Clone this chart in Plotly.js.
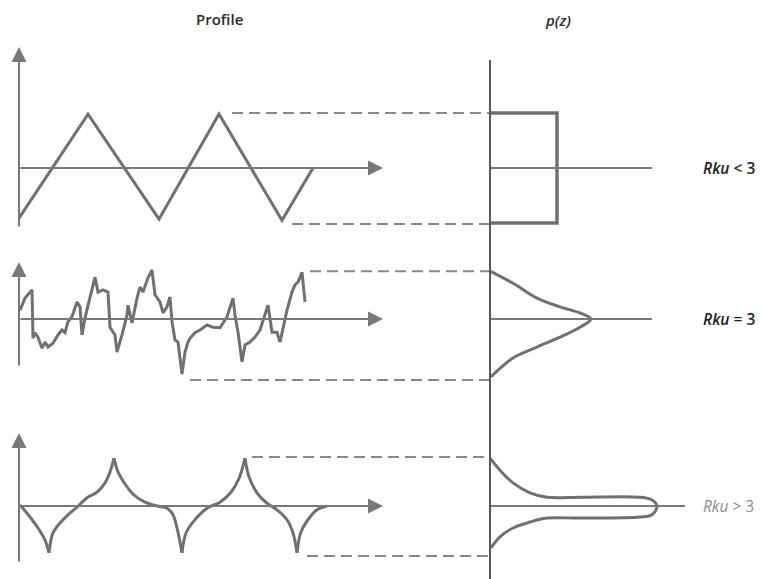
<!DOCTYPE html>
<html><head><meta charset="utf-8">
<script src="https://cdn.plot.ly/plotly-3.0.1.min.js"></script>
<style>html,body{margin:0;padding:0;background:#fff}</style>
</head><body>
<div id="chart" style="width:764px;height:579px"></div>
<script>
// ---------- DATA ----------
const rowLabels = ['<i>Rku</i> &lt; 3', '<i>Rku</i> = 3', '<i>Rku</i> &gt; 3'];
const panelTitles = ['Profile', 'p(z)'];

// Row 1: triangular profile (x along profile, z height)
const triX = [0, 69, 140, 200, 263, 294];
const triZ = [-0.91, 0.98, -0.93, 0.98, -0.95, 0];

// Row 2: random (Gaussian) profile
const randX = [1, 6, 13, 14, 16, 19, 23, 26, 29, 34, 39, 43, 46, 49, 53, 58, 61, 63, 66, 71, 76, 79, 84, 89, 91, 96, 98,
  103, 108, 109, 113, 118, 121, 124, 129, 133, 136, 141, 144, 148, 151, 153, 156, 159, 163, 166, 169, 171, 176, 181,
  188, 194, 201, 208, 211, 214, 216, 219, 223, 226, 231, 236, 241, 246, 249, 253, 258, 261, 264, 268, 273, 276, 279,
  283, 284, 286];
const randZ = [0.16, 0.38, 0.53, -0.35, -0.25, -0.33, -0.53, -0.42, -0.51, -0.44, -0.29, -0.2, -0.25, -0.05, 0.04, 0.31,
  0.22, -0.29, 0.02, 0.38, 0.76, 0.49, 0.53, 0.49, -0.15, -0.29, -0.6, -0.29, 0.07, 0.25, -0.07, 0.38, 0.58, 0.49, 0.75,
  0.89, 0.44, 0.31, 0.11, 0.22, 0.4, -0.05, -0.38, -0.42, -1.0, -0.6, -0.42, -0.35, -0.25, -0.2, -0.11, -0.15, -0.16,
  0.04, 0.2, 0.38, 0.07, -0.24, -0.78, -0.47, -0.42, -0.33, -0.2, 0.07, 0.25, -0.24, -0.24, -0.42, -0.15, 0.16, 0.49,
  0.62, 0.67, 0.85, 0.67, 0.31];

// Row 3: cusped profile, arcs between cusps (null separates arcs)
const cuspX = [1, 11, 19, 26, 30, null,
  30, 34, 41, 49, 58, 68, 78, 86, 91, 95, null,
  95, 99, 106, 115, 126, 138, 148, 154, 158, 163, null,
  163, 167, 175, 188, 201, 212, 220, 226, null,
  226, 230, 238, 248, 258, 268, 274, 278, null,
  278, 282, 289, 298, 308];
const cuspZ = [0.02, -0.2, -0.4, -0.62, -0.85, null,
  -0.85, -0.49, -0.31, -0.16, -0.02, 0.15, 0.25, 0.42, 0.62, 0.87, null,
  0.87, 0.62, 0.4, 0.2, 0.07, 0, -0.04, -0.16, -0.4, -0.85, null,
  -0.85, -0.49, -0.27, -0.04, 0.07, 0.25, 0.5, 0.87, null,
  0.87, 0.53, 0.24, 0.05, -0.07, -0.25, -0.49, -0.85, null,
  -0.85, -0.47, -0.25, -0.07, 0];

// Height distributions p(z)
const boxP = [0, 0.67, 0.67, 0];
const boxZ = [1.0, 1.0, -1.0, -1.0];
const gaussP = [0, 0.23, 0.47, 0.70, 0.90, 1.01, 0.90, 0.70, 0.47, 0.23, 0.01];
const gaussZ = [0.87, 0.65, 0.38, 0.22, 0.11, 0, -0.15, -0.33, -0.51, -0.71, -1.05];
const spikeP = [0, 0.10, 0.23, 0.40, 0.57, 0.90, 1.50, 1.62, 1.67, 1.62, 1.50, 0.90, 0.57, 0.40, 0.23, 0.10, 0.01];
const spikeZ = [0.87, 0.65, 0.42, 0.24, 0.16, 0.16, 0.16, 0.11, 0, -0.16, -0.2, -0.22, -0.22, -0.29, -0.4, -0.56, -0.76];

// Dashed extent lines: highest peak / lowest valley of each profile
const peakZ = [1.0, 0.87, 0.89];
const peakStartX = [213, 291, 233];
const valleyZ = [-1.02, -1.11, -0.91];
const valleyStartX = [273, 171, 288];

// ---------- LAYOUT GEOMETRY ----------
const W = 764, H = 579;
const ZPX = 55;                        // pixels per z unit
const rowCenter = [168, 319, 506];     // pixel y of z = 0
const rowBand = [[40, 250], [250, 400], [400, 579]];
const axisTop = [47, 262, 433], axisBottom = [228, 367, 563];
const profileAxisLen = 364;
const profileEnd = 471;                // the p(z) axis position in profile units
const baseEnd = [1.62, 1.62, 1.95];

const lineGray = '#707070', axisGray = '#787878', dashGray = '#888888';
const yids = ['y', 'y2', 'y3'];
const ylayout = ['yaxis', 'yaxis2', 'yaxis3'];

const hidden = {visible: false, showgrid: false, zeroline: false, fixedrange: true};
const layout = {
  width: W, height: H, margin: {l: 0, r: 0, t: 0, b: 0},
  paper_bgcolor: '#fff', plot_bgcolor: 'rgba(0,0,0,0)', showlegend: false,
  xaxis: Object.assign({domain: [9 / W, 490 / W], range: [-10, profileEnd]}, hidden),
  xaxis2: Object.assign({domain: [480 / W, 760 / W], range: [-0.1, 2.7]}, hidden),
  shapes: [], annotations: []
};
const pxToZ = (r, py) => (rowCenter[r] - py) / ZPX;
for (let r = 0; r < 3; r++) {
  const [t, b] = rowBand[r];
  layout[ylayout[r]] = Object.assign({
    domain: [(H - b) / H, (H - t) / H],
    range: [pxToZ(r, b), pxToZ(r, t)], anchor: 'x'
  }, hidden);
}

const traces = [];
const prof = (x, z, r, shape) => traces.push({
  type: 'scatter', mode: 'lines', x: x, y: z, xaxis: 'x', yaxis: yids[r],
  line: {color: lineGray, width: 3, shape: shape || 'linear', smoothing: 1}, connectgaps: false, hoverinfo: 'skip'
});
const dens = (p, z, r, shape, w) => traces.push({
  type: 'scatter', mode: 'lines', x: p, y: z, xaxis: 'x2', yaxis: yids[r],
  line: {color: lineGray, width: w || 3, shape: shape || 'linear', smoothing: 1}, hoverinfo: 'skip'
});
prof(triX, triZ, 0);
prof(randX, randZ, 1);
prof(cuspX, cuspZ, 2, 'spline');
dens(boxP, boxZ, 0, 'linear', 3.5);
dens(gaussP, gaussZ, 1, 'spline');
dens(spikeP, spikeZ, 2, 'spline');

for (let r = 0; r < 3; r++) {
  // dashed lines
  [[peakStartX[r], peakZ[r]], [valleyStartX[r], valleyZ[r]]].forEach(([sx, z]) => traces.push({
    type: 'scatter', mode: 'lines', x: [sx, profileEnd], y: [z, z], xaxis: 'x', yaxis: yids[r],
    line: {color: dashGray, width: 2, dash: '11px,6px'}, hoverinfo: 'skip'
  }));
  // density baseline
  layout.shapes.push({type: 'line', xref: 'x2', yref: yids[r], x0: 0, x1: baseEnd[r], y0: 0, y1: 0,
    line: {color: axisGray, width: 2}});
  // profile axes (arrows)
  layout.annotations.push({xref: 'x', yref: yids[r], axref: 'x', ayref: yids[r],
    x: profileAxisLen, y: 0, ax: 0, ay: 0, text: '', showarrow: true,
    arrowhead: 2, arrowsize: 1.5, arrowwidth: 2, arrowcolor: axisGray});
  layout.annotations.push({xref: 'x', yref: yids[r], axref: 'x', ayref: yids[r],
    x: 0, y: pxToZ(r, axisTop[r]), ax: 0, ay: pxToZ(r, axisBottom[r]), text: '', showarrow: true,
    arrowhead: 2, arrowsize: 1.5, arrowwidth: 2, arrowcolor: axisGray});
  // row labels
  layout.annotations.push({xref: 'paper', yref: yids[r], x: 701 / W, y: 0, xanchor: 'left', yanchor: 'middle',
    text: rowLabels[r], showarrow: false,
    font: {family: 'Open Sans', size: 15.5, color: r === 2 ? '#8c8c8c' : '#1e1e1e', weight: r === 2 ? 400 : 600}});
}
// p(z) vertical axis
layout.shapes.push({type: 'line', xref: 'x2', yref: 'paper', x0: 0, x1: 0, y0: 0, y1: (H - 60) / H,
  line: {color: '#5a5a5a', width: 2}});
// panel titles
layout.annotations.push({xref: 'paper', yref: 'paper', x: 219 / W, y: (H - 19) / H, xanchor: 'center', yanchor: 'middle',
  text: panelTitles[0], showarrow: false, font: {family: 'Open Sans', size: 15, color: '#2a2a2a', weight: 600}});
layout.annotations.push({xref: 'paper', yref: 'paper', x: 558 / W, y: (H - 20) / H, xanchor: 'center', yanchor: 'middle',
  text: panelTitles[1], showarrow: false, font: {family: 'Open Sans', size: 15, color: '#2a2a2a', weight: 600, style: 'italic'}});

Plotly.newPlot('chart', traces, layout, {displayModeBar: false, staticPlot: true});
</script>
</body></html>
